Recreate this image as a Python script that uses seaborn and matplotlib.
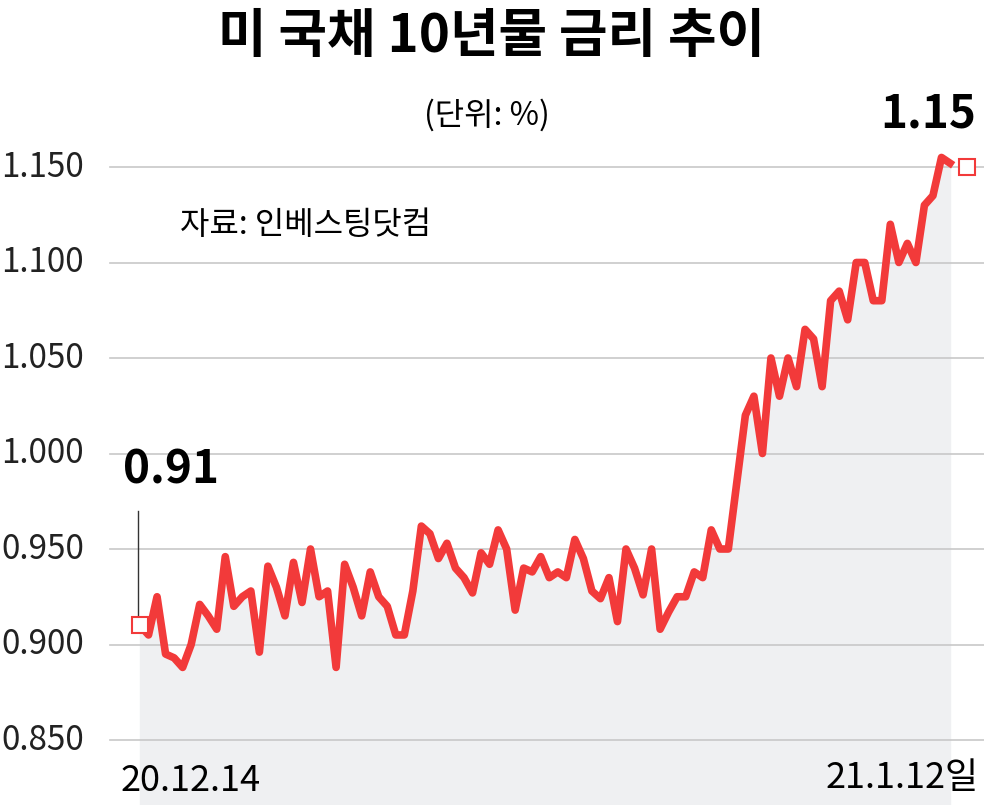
import matplotlib
matplotlib.use("Agg")
import matplotlib.pyplot as plt
import seaborn as sns
import numpy as np
import pandas as pd

values = [0.910,0.905,0.925,0.895,0.893,0.888,0.900,0.921,0.915,0.908,0.946,0.920,0.925,0.928,0.896,
          0.941,0.930,0.915,0.943,0.922,0.950,0.925,0.928,0.888,0.942,0.930,0.915,0.938,0.925,0.920,
          0.905,0.905,0.928,0.962,0.958,0.945,0.953,0.940,0.935,0.927,0.948,0.942,0.960,0.950,0.918,
          0.940,0.938,0.946,0.935,0.938,0.935,0.955,0.945,0.928,0.924,0.935,0.912,0.950,0.940,0.926,
          0.950,0.908,0.917,0.925,0.925,0.938,0.935,0.960,0.950,0.950,0.985,1.020,1.030,1.000,1.050,
          1.030,1.050,1.035,1.065,1.060,1.035,1.080,1.085,1.070,1.100,1.100,1.080,1.080,1.120,1.100,
          1.110,1.100,1.130,1.135,1.155,1.152]
yticks = [0.850,0.900,0.950,1.000,1.050,1.100,1.150]
start_label, end_label = "20.12.14", "21.1.12일"

plt.rcParams['font.family'] = ['Noto Sans CJK KR', 'DejaVu Sans']
fig = plt.figure(figsize=(9.84, 8.05), dpi=100)
ax = fig.add_axes([0, 0, 1, 1])
df = pd.DataFrame({"i": np.arange(len(values)), "v": values})
N = len(values) - 1
per = N / 810
ax.set_xlim(-140 * per, N + 34 * per)
ppv = 0.05 / 95.5
ax.set_ylim(0.85 - 65 * ppv, 1.150 + 167 * ppv)
ax.axis("off")

for t in yticks:
    ax.axhline(t, xmin=110/984, xmax=1, color="#c8c8c8", lw=1.2, zorder=1)
    ax.text(-139 * per, t, f"{t:.3f}", ha="left", va="center", fontsize=24, color="#222")

ax.fill_between(df["i"], df["v"], 0.85 - 65 * ppv, color="#eff0f2", zorder=0)
sns.lineplot(data=df, x="i", y="v", ax=ax, color="#f23a3a", lw=5.5, zorder=3)
ax.plot([0], [values[0]], marker="s", ms=11, mfc="white", mec="#f23a3a", mew=1.5, zorder=4)
ax.plot([N + 17 * per], [values[-1] - 0.002], marker="s", ms=11, mfc="white", mec="#f23a3a", mew=1.5, zorder=4)
ax.plot([-2 * per, -2 * per], [values[0] + 0.004, values[0] + 0.06], color="#333", lw=1, zorder=2)

fig.text(0.5, 0.955, "미 국채 10년물 금리 추이", ha="center", va="center", fontsize=38, fontweight="black")
fig.text(0.495, 0.857, "(단위: %)", ha="center", va="center", fontsize=23)
fig.text(0.183, 0.72, "자료: 인베스팅닷컴", ha="left", va="center", fontsize=23)
fig.text(0.125, 0.415, f"{values[0]:.2f}", ha="left", va="center", fontsize=33, fontweight="bold")
fig.text(0.992, 0.858, f"{values[-1]:.2f}", ha="right", va="center", fontsize=33, fontweight="bold")
fig.text(0.122, 0.03, start_label, ha="left", va="center", fontsize=26)
fig.text(0.995, 0.033, end_label, ha="right", va="center", fontsize=26)
fig.savefig("out.png", dpi=100)
